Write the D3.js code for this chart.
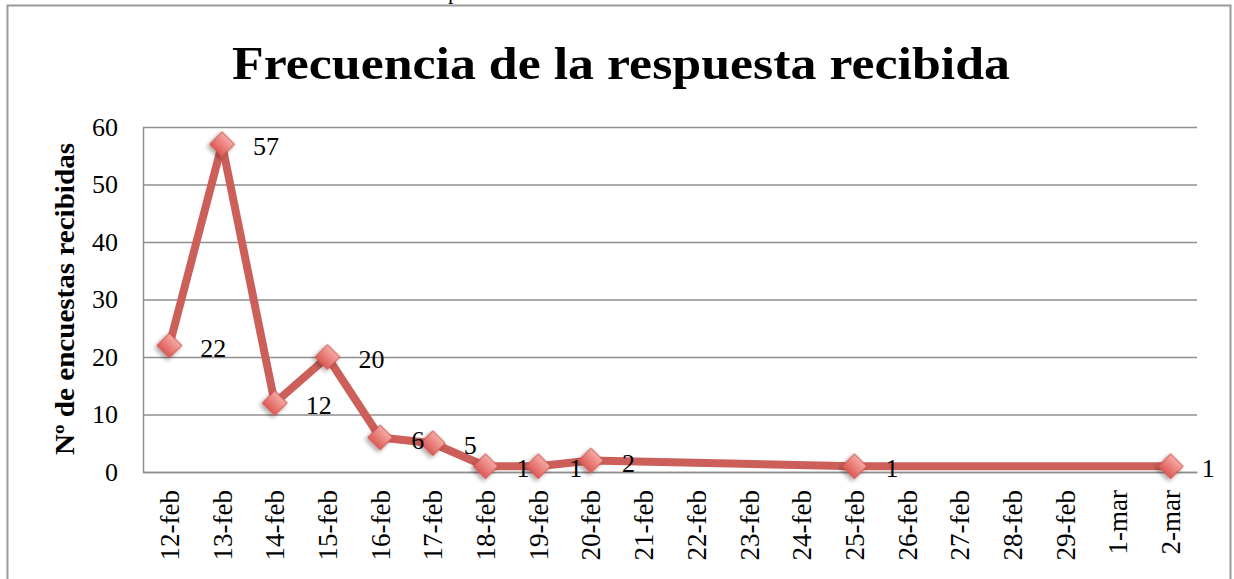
<!DOCTYPE html>
<meta charset="utf-8">
<head>
	<title>Frecuencia de la respuesta recibida</title>
</head>

<style>
	body { margin: 0; background: #fff; }
	svg { display: block; font-family: "Liberation Serif", "DejaVu Serif", serif; }
</style>

<body>
	<svg width="1234" height="579">
	</svg>

	<script src="https://cdnjs.cloudflare.com/ajax/libs/d3/7.8.5/d3.min.js"></script>
	<script>
var categories = ["12-feb", "13-feb", "14-feb", "15-feb", "16-feb", "17-feb", "18-feb", "19-feb", "20-feb",
	"21-feb", "22-feb", "23-feb", "24-feb", "25-feb", "26-feb", "27-feb", "28-feb", "29-feb", "1-mar", "2-mar"];
var pointDates = ["12-feb", "13-feb", "14-feb", "15-feb", "16-feb", "17-feb", "18-feb", "19-feb", "20-feb", "25-feb", "2-mar"];
var responses = [22, 57, 12, 20, 6, 5, 1, 1, 2, 1, 1];
var yTicks = [0, 10, 20, 30, 40, 50, 60];

var plotLeft = 143, plotRight = 1197, plotTop = 127, plotBottom = 472;
var gridColor = '#8e8e8e', lineColor = '#cd5f5a';

var svg = d3.select('svg');

var data = pointDates.map(function(d, i) {return {date: d, value: responses[i]};});

var x = d3.scaleBand().domain(categories).range([plotLeft, plotRight]).padding(0);
var y = d3.scaleLinear().domain([0, 60]).range([plotBottom, plotTop]);

// outer frame
svg.append('rect')
	.attr('x', 7.5).attr('y', 5.5)
	.attr('width', 1223).attr('height', 620)
	.attr('fill', 'none')
	.attr('stroke', '#9a9a9a')
	.attr('stroke-width', 2);

// cut-off letter from text above the chart
svg.append('text')
	.attr('x', 448).attr('y', -1)
	.style('font-size', '22px')
	.text('p');

// defs: marker gradient and shadow
var defs = svg.append('defs');
var grad = defs.append('linearGradient')
	.attr('id', 'mk').attr('x1', 0).attr('y1', 0).attr('x2', 0).attr('y2', 1);
grad.append('stop').attr('offset', '0%').attr('stop-color', '#f7aaa5');
grad.append('stop').attr('offset', '100%').attr('stop-color', '#dd5a55');

var shadow = defs.append('filter').attr('id', 'sh')
	.attr('x', '-50%').attr('y', '-50%').attr('width', '200%').attr('height', '200%');
shadow.append('feDropShadow')
	.attr('dx', 0).attr('dy', 3).attr('stdDeviation', 2)
	.attr('flood-color', '#000').attr('flood-opacity', 0.35);

// title
svg.append('text')
	.attr('x', 621).attr('y', 79)
	.attr('text-anchor', 'middle')
	.attr('textLength', 778)
	.attr('lengthAdjust', 'spacingAndGlyphs')
	.style('font-size', '47px')
	.style('font-weight', 'bold')
	.text('Frecuencia de la respuesta recibida');

// gridlines
var grid = svg.append('g')
	.attr('transform', 'translate(' + plotLeft + ',0)')
	.call(d3.axisLeft(y).tickValues(yTicks).tickSize(-(plotRight - plotLeft)).tickFormat(''));
grid.select('.domain').remove();
grid.selectAll('line').attr('stroke', gridColor).attr('stroke-width', 1.5);

// y axis
var yAxis = svg.append('g')
	.attr('transform', 'translate(' + plotLeft + ',0)')
	.call(d3.axisLeft(y).tickValues(yTicks).tickSize(0).tickPadding(25));
yAxis.select('.domain').attr('stroke', gridColor).attr('stroke-width', 1.5);
yAxis.selectAll('text')
	.attr('fill', '#000')
	.style('font-family', '"Liberation Serif", serif')
	.style('font-size', '26px');

// x axis
var xAxis = svg.append('g')
	.attr('transform', 'translate(0,' + plotBottom + ')')
	.call(d3.axisBottom(x).tickSize(0).tickSizeOuter(0));
xAxis.select('.domain').attr('stroke', gridColor).attr('stroke-width', 1.5);
xAxis.selectAll('text')
	.attr('fill', '#000')
	.attr('transform', 'rotate(-90)')
	.attr('text-anchor', 'end')
	.attr('x', -18)
	.attr('y', 0)
	.attr('dy', '0.35em')
	.style('font-family', '"Liberation Serif", serif')
	.style('font-size', '27px');

// y axis title
svg.append('text')
	.attr('transform', 'translate(74,299) rotate(-90)')
	.attr('text-anchor', 'middle')
	.attr('textLength', 312)
	.attr('lengthAdjust', 'spacingAndGlyphs')
	.style('font-size', '27px')
	.style('font-weight', 'bold')
	.text('Nº de encuestas recibidas');

function cx(d) {return x(d.date) + x.bandwidth() / 2;}

// line
svg.append('path')
	.datum(data)
	.attr('fill', 'none')
	.attr('stroke', lineColor)
	.attr('stroke-width', 8)
	.attr('stroke-linejoin', 'round')
	.attr('d', d3.line().x(cx).y(function(d) {return y(d.value);}));

// markers
svg.append('g').selectAll('path')
	.data(data)
	.enter()
	.append('path')
	.attr('d', d3.symbol(d3.symbolSquare, 310))
	.attr('transform', function(d) {return 'translate(' + cx(d) + ',' + y(d.value) + ') rotate(45)';})
	.attr('fill', 'url(#mk)')
	.attr('stroke', '#c9544f')
	.attr('stroke-width', 1)
	.attr('filter', 'url(#sh)');

// data labels
svg.append('g').selectAll('text')
	.data(data)
	.enter()
	.append('text')
	.attr('x', function(d) {return cx(d) + 31;})
	.attr('y', function(d) {return y(d.value) + 2;})
	.attr('dy', '0.35em')
	.style('font-size', '26px')
	.text(function(d) {return d.value;});
	</script>
</body>
</html>
